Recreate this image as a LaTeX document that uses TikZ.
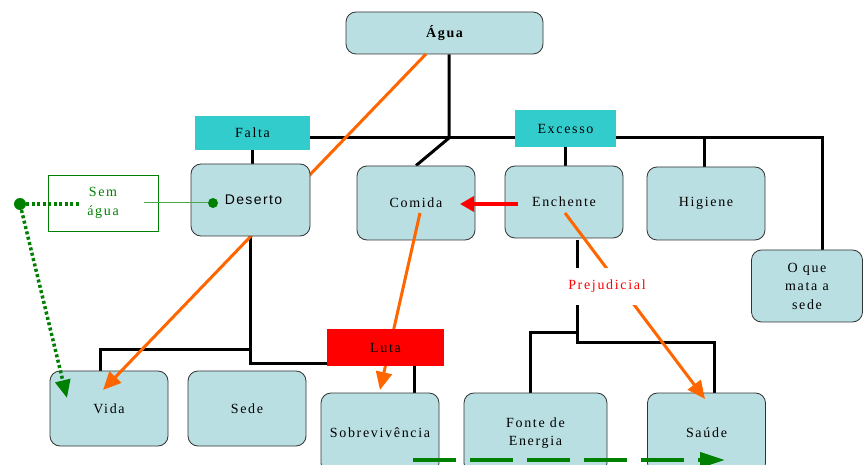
\documentclass[tikz,border=0pt]{standalone}
\usepackage{fontspec}
\setmainfont{Liberation Serif}
\newfontfamily\spaced[LetterSpace=12]{Liberation Serif}
\newfontfamily\arialsp[LetterSpace=10]{Liberation Sans}
\usetikzlibrary{arrows.meta,backgrounds}
\usepackage{xcolor}
\definecolor{boxblue}{HTML}{BADFE2}
\definecolor{tealbox}{HTML}{33CCCC}
\definecolor{lutared}{HTML}{FF0000}
\definecolor{arrorange}{HTML}{FF6600}
\definecolor{leafgreen}{HTML}{008000}

\begin{document}
\begin{tikzpicture}[x=1pt, y=-1pt,
  every node/.style={font=\fontsize{14}{18.5}\selectfont\spaced},
  concept/.style={rectangle, draw=black!80, fill=boxblue, rounded corners=10pt,
                  line width=0.8pt, minimum width=118pt, minimum height=74pt,
                  align=center, inner sep=2pt},
  tag/.style={rectangle, fill=tealbox, minimum width=115pt, minimum height=34pt,
              inner sep=2pt},
  tree/.style={line width=3pt, line join=miter},
  orarr/.style={draw=arrorange, line width=3pt, -{Triangle[length=18pt,width=16pt]}},
  redarr/.style={draw=lutared, line width=3.5pt, -{Triangle[length=14pt,width=15pt]}},
  dot/.style={circle, fill=leafgreen, inner sep=0pt, minimum size=#1},
]
\useasboundingbox (0,0) rectangle (863,465);

% boxes below the crossing arrows
\node[concept, minimum width=197pt, minimum height=42pt] (agua) at (444.5,33) {\bfseries Água};
\node[concept] (comida) at (416,203) {Comida};
\node[concept, minimum height=72pt] (enchente) at (564,202) {Enchente};
\node[concept, minimum height=73pt] (higiene) at (706,203.5) {Higiene};
\node[concept, minimum width=111pt, minimum height=72pt] (mata) at (807,286) {O que\\mata a\\sede};
\node[rectangle, draw=leafgreen, fill=white, line width=0.8pt, text=leafgreen,
      minimum width=110pt, minimum height=56pt, align=center] (semagua) at (103,203) {Sem\\água};
\node[concept, minimum height=75pt] (vida) at (109,408.5) {Vida};
\node[concept, minimum height=75pt] (sede) at (247,408.5) {Sede};
\node[concept, minimum height=80pt] (sobre) at (380,433) {Sobrevivência};
\node[concept, minimum width=143pt, minimum height=80pt] (fonte) at (535.5,433) {Fonte de\\Energia};
\node[concept, minimum height=80pt] (saude) at (706.5,433) {Saúde};
\node[tag] (falta) at (252.5,133) {Falta};
\node[tag, minimum width=101pt, minimum height=37pt] (excesso) at (565.5,128.5) {Excesso};

% junctions of the tree
\coordinate (hub) at (449,138);
\coordinate (corner) at (822,138);
\coordinate (dj) at (250,350);
\coordinate (vj) at (100,350);
\coordinate (lj) at (250,364);
\coordinate (sj) at (414,366);
\coordinate (ej) at (577,333);
\coordinate (fj) at (530,333);
\coordinate (ek) at (577,343);
\coordinate (hj) at (714,343);

\begin{scope}[on background layer]
  \draw[tree] (agua.south -| hub) -- (hub) -- (comida.north);
  \draw[tree] (falta.east |- hub) -- (corner) -- (corner |- mata.north);
  \draw[tree] (704,138) -- (704,167);
  \draw[tree] (excesso.south) -- (excesso.south |- enchente.north);
  \draw[tree] (falta.south) -- (falta.south |- 0,165);
  \draw[tree] (250,236) -- (lj) -- (330,364);
  \draw[tree] (dj) -- (vj) -- (vj |- vida.north);
  \draw[tree] (sj) -- (sj |- sobre.north);
  \draw[tree] (577,240) -- (ek) -- (hj) -- (hj |- saude.north);
  \draw[tree] (ej) -- (fj) -- (fj |- fonte.north);
\end{scope}

% crossing arrows
\coordinate (ao) at (426,54);
\coordinate (vt) at (103,390);
\coordinate (co) at (420,213);
\coordinate (st) at (380,390);
\coordinate (eo) at (565,213);
\coordinate (ht) at (705,399);
\draw[orarr] (ao) -- (vt);
\draw[orarr] (co) -- (st);
\draw[orarr] (eo) -- (ht);

% boxes on top of the arrows
\node[concept, minimum width=119pt, minimum height=72pt] (deserto) at (250.5,200)
  {\hspace*{6pt}\arialsp Deserto};
\node[rectangle, fill=lutared, minimum width=117pt, minimum height=37pt] (luta) at (385.5,347.5) {Luta};
\node[rectangle, fill=white, text=lutared, minimum height=37pt, inner xsep=4pt] (prej) at (607,286.5) {Prejudicial};

% red arrow
\coordinate (ro) at (518,204);
\coordinate (rt) at (460,204);
\draw[redarr] (ro) -- (rt);

% green links
\node[dot=12pt] (gdot) at (20,204) {};
\node[dot=10pt] (ddot) at (213,203) {};
\coordinate (sa1) at (80,204);
\coordinate (sa2) at (144,203);
\coordinate (gt) at (67,398);
\coordinate (bo) at (413,460);
\coordinate (bt) at (725,460);
\draw[leafgreen, line width=3.5pt, dash pattern=on 3pt off 2.5pt] (gdot) -- (sa1);
\draw[leafgreen!70, line width=1pt] (sa2) -- (ddot);
\draw[leafgreen, line width=3.5pt, dash pattern=on 3pt off 2.5pt,
      -{Triangle[length=18pt,width=15pt]}] (gdot) -- (gt);
\draw[leafgreen, line width=4pt, dash pattern=on 43pt off 14pt,
      -{Triangle[length=25pt,width=15pt]}] (bo) -- (bt);
\end{tikzpicture}
\end{document}
